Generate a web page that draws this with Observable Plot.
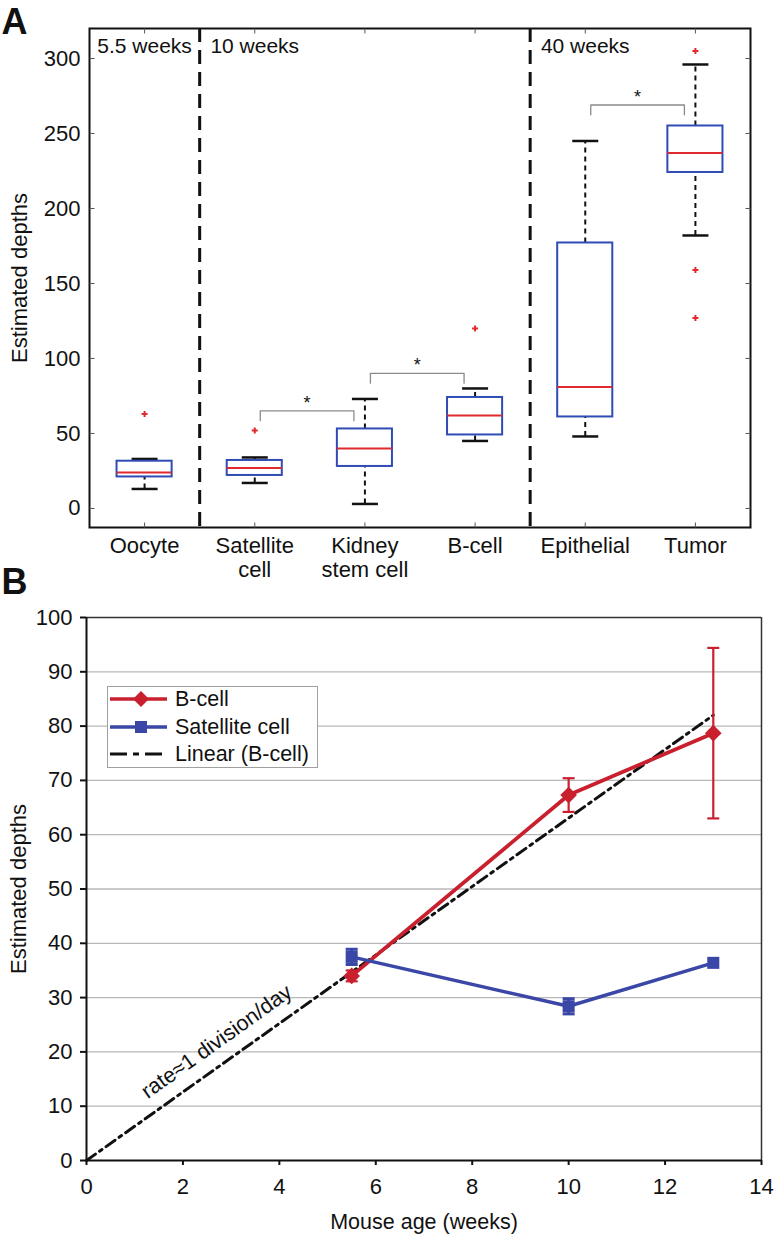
<!DOCTYPE html>
<html><head><meta charset="utf-8">
<script src="https://cdn.jsdelivr.net/npm/d3@7"></script>
<script src="https://cdn.jsdelivr.net/npm/@observablehq/plot@0.6"></script>
<style>
body{margin:0;background:#fff;font-family:"Liberation Sans",Arial,Helvetica,sans-serif;}
#wrap{position:relative;width:774px;height:1238px;overflow:hidden;}
#panelA{position:absolute;left:0;top:0;}
#panelB{position:absolute;left:0;top:590px;}
#legend{position:absolute;left:107px;top:686px;width:209px;height:80px;border:1px solid #a0a0a0;background:#fff;}
.row{position:absolute;left:0;height:26px;width:209px;}
.row svg{position:absolute;left:2px;top:0;}
.row span{position:absolute;left:67px;top:0;line-height:26px;font-size:21.5px;color:#111;white-space:nowrap;}
</style></head>
<body>
<div id="wrap">
  <div id="panelA"></div>
  <div id="panelB"></div>
  <div id="legend"></div>
</div>
<script>
// ---------- Panel A data ----------
const categories = ["Oocyte", "Satellite cell", "Kidney stem cell", "B-cell", "Epithelial", "Tumor"];
const tickLabels = ["Oocyte", "Satellite\ncell", "Kidney\nstem cell", "B-cell", "Epithelial", "Tumor"];
const whiskerLow  = [13, 17, 3, 45, 48, 182];
const quartile1   = [21, 22, 28, 49, 61, 224];
const median      = [24, 27, 40, 62, 81, 237];
const quartile3   = [31.5, 32, 53, 74, 177, 255];
const whiskerHigh = [33, 34, 73, 80, 245, 296];
const outlierCategory = ["Oocyte", "Satellite cell", "B-cell", "Tumor", "Tumor", "Tumor"];
const outlierValue    = [63, 52, 120, 305, 159, 127];
const periods = ["5.5 weeks", "10 weeks", "40 weeks"];
const periodFirstCategory = ["Oocyte", "Satellite cell", "Epithelial"];
const bracketFrom = ["Satellite cell", "Kidney stem cell", "Epithelial"];
const bracketTo   = ["Kidney stem cell", "B-cell", "Tumor"];
const bracketLevel = [65, 90, 269];
const yTicksA = [0, 50, 100, 150, 200, 250, 300];

// ---------- Panel B data ----------
const ages = [5.5, 10, 13];
const bcellDepth = [34, 67.3, 78.7];
const bcellError = [1, 3.1, 15.7];
const satelliteDepth = [37.5, 28.4, 36.4];
const satelliteError = [1.4, 1.4, 0];
const trendAge = [0, 13];
const trendDepth = [0, 82];
const annotationText = ["rate\u22481 division/day"];
const annotationAge = [2.7];
const annotationDepth = [21.9];
const xTicksB = [0, 2, 4, 6, 8, 10, 12, 14];
const yTicksB = [0, 10, 20, 30, 40, 50, 60, 70, 80, 90, 100];
const gridB = [10, 20, 30, 40, 50, 60, 70, 80, 90];
const seriesNames = ["B-cell", "Satellite cell", "Linear (B-cell)"];

// ---------- styles ----------
const FONT = '"Liberation Sans", Arial, Helvetica, sans-serif';
const BOX_BLUE = "#2f4cb4";
const MED_RED = "#e02a2e";
const RED = "#c8202f";
const BLUE = "#3a47a6";

const lineSym = (fn) => ({draw(ctx, size) { const h = Math.sqrt(size / Math.PI); fn(ctx, h); }});
const capSymbol = lineSym((c, h) => { c.moveTo(-h, 0); c.lineTo(h, 0); });
const plusSymbol = lineSym((c, h) => { c.moveTo(-h, 0); c.lineTo(h, 0); c.moveTo(0, -h); c.lineTo(0, h); });
const tickRight = lineSym((c, h) => { c.moveTo(0, 0); c.lineTo(h, 0); });
const tickLeft  = lineSym((c, h) => { c.moveTo(0, 0); c.lineTo(-h, 0); });
const tickDown  = lineSym((c, h) => { c.moveTo(0, 0); c.lineTo(0, h); });
const tickUp    = lineSym((c, h) => { c.moveTo(0, 0); c.lineTo(0, -h); });

const pos = (c) => categories.indexOf(c) + 1;
const positions = categories.map(pos);
const boxes = categories.map((c, i) => ({pos: pos(c), lo: whiskerLow[i], q1: quartile1[i], med: median[i], q3: quartile3[i], hi: whiskerHigh[i]}));
const outliers = outlierCategory.map((c, i) => ({pos: pos(c), v: outlierValue[i]}));
const boundaries = periodFirstCategory.slice(1).map(c => pos(c) - 0.5);
const periodRows = periods.map((p, i) => ({label: p, pos: pos(periodFirstCategory[i])}));
const bracketPts = [];
const bracketStars = [];
bracketFrom.forEach((f, i) => {
  const a = pos(f) + 0.05, b = pos(bracketTo[i]) - 0.1, y = bracketLevel[i], d = 6.5;
  [[a, y - d], [a, y], [b, y], [b, y - d]].forEach(([x, yy]) => bracketPts.push({k: i, x, y: yy}));
  bracketStars.push({x: (a + b) / 2, y});
});
const HW = 0.25;

const chartA = Plot.plot({
  width: 774, height: 590,
  marginTop: 28, marginLeft: 89, marginRight: 24, marginBottom: 63,
  style: {fontFamily: FONT, fontSize: "22px", background: "transparent", overflow: "visible", color: "#111"},
  x: {domain: [0.5, 6.5], label: null},
  y: {domain: [-12.7, 320], label: null},
  marks: [
    Plot.ruleX(boundaries, {stroke: "#111", strokeWidth: 3, strokeDasharray: "14,8"}),
    Plot.ruleX(boxes, {x: "pos", y1: "q3", y2: "hi", stroke: "#111", strokeWidth: 2, strokeDasharray: "5,4"}),
    Plot.ruleX(boxes, {x: "pos", y1: "lo", y2: "q1", stroke: "#111", strokeWidth: 2, strokeDasharray: "5,4"}),
    Plot.dot(boxes, {x: "pos", y: "hi", symbol: capSymbol, r: 13, stroke: "#111", strokeWidth: 2.5, fill: "none"}),
    Plot.dot(boxes, {x: "pos", y: "lo", symbol: capSymbol, r: 13, stroke: "#111", strokeWidth: 2.5, fill: "none"}),
    Plot.rect(boxes, {x1: d => d.pos - HW, x2: d => d.pos + HW, y1: "q1", y2: "q3", fill: "white", stroke: BOX_BLUE, strokeWidth: 2}),
    Plot.ruleY(boxes, {x1: d => d.pos - HW, x2: d => d.pos + HW, y: "med", stroke: MED_RED, strokeWidth: 2}),
    Plot.dot(outliers, {x: "pos", y: "v", symbol: plusSymbol, r: 3, stroke: MED_RED, strokeWidth: 2, fill: "none"}),
    Plot.line(bracketPts, {x: "x", y: "y", z: "k", stroke: "#8a8a8a", strokeWidth: 1.3}),
    Plot.text(bracketStars, {x: "x", y: "y", text: () => "*", fontSize: 18, dy: -2, lineAnchor: "bottom", fill: "#111"}),
    Plot.text(periodRows, {x: "pos", frameAnchor: "top", text: "label", dy: 18, lineAnchor: "middle", textAnchor: "middle", fontSize: 21}),
    Plot.frame({stroke: "#111", strokeWidth: 2}),
    Plot.dot(yTicksA, {y: d => d, frameAnchor: "left", symbol: tickRight, r: 5, stroke: "#555", strokeWidth: 1, fill: "none"}),
    Plot.dot(yTicksA, {y: d => d, frameAnchor: "right", symbol: tickLeft, r: 5, stroke: "#555", strokeWidth: 1, fill: "none"}),
    Plot.dot(positions, {x: d => d, frameAnchor: "top", symbol: tickDown, r: 5, stroke: "#555", strokeWidth: 1, fill: "none"}),
    Plot.dot(positions, {x: d => d, frameAnchor: "bottom", symbol: tickUp, r: 5, stroke: "#555", strokeWidth: 1, fill: "none"}),
    Plot.axisY({ticks: yTicksA, tickSize: 0, tickPadding: 9, label: null}),
    Plot.axisX({ticks: positions, tickFormat: i => tickLabels[i - 1], tickSize: 0, tickPadding: 9, lineHeight: 1.08, label: null}),
    Plot.text(["Estimated depths"], {text: d => d, frameAnchor: "left", rotate: -90, dx: -70, textAnchor: "middle", lineAnchor: "middle", fontSize: 22}),
    Plot.text(["A"], {text: d => d, frameAnchor: "top-left", dx: -88, dy: -20, textAnchor: "start", lineAnchor: "top", fontWeight: "bold", fontSize: 36})
  ]
});
document.getElementById("panelA").append(chartA);

// ---------- Panel B ----------
const bcell = ages.map((a, i) => ({age: a, v: bcellDepth[i], e: bcellError[i]}));
const sat = ages.map((a, i) => ({age: a, v: satelliteDepth[i], e: satelliteError[i]}));
const trend = trendAge.map((a, i) => ({age: a, v: trendDepth[i]}));
const annot = annotationText.map((t, i) => ({t, age: annotationAge[i], v: annotationDepth[i]}));

const chartB = Plot.plot({
  width: 774, height: 648,
  marginTop: 27, marginLeft: 86, marginRight: 13, marginBottom: 78,
  style: {fontFamily: FONT, fontSize: "22px", background: "transparent", overflow: "visible", color: "#111"},
  x: {domain: [0, 14], label: null},
  y: {domain: [0, 100], label: null},
  marks: [
    Plot.ruleY(gridB, {stroke: "#b8b8b8", strokeWidth: 1.3}),
    Plot.ruleY([100], {stroke: "#333", strokeWidth: 1.5}),
    Plot.ruleX([14], {stroke: "#333", strokeWidth: 1.5}),
    Plot.line(trend, {x: "age", y: "v", stroke: "#111", strokeWidth: 3, strokeDasharray: "11,5,3,5"}),
    Plot.line(bcell, {x: "age", y: "v", stroke: RED, strokeWidth: 3.8}),
    Plot.ruleX(bcell, {x: "age", y1: d => d.v - d.e, y2: d => d.v + d.e, stroke: RED, strokeWidth: 2.2}),
    Plot.dot(bcell, {x: "age", y: d => d.v + d.e, symbol: capSymbol, r: 6, stroke: RED, strokeWidth: 2.2, fill: "none"}),
    Plot.dot(bcell, {x: "age", y: d => d.v - d.e, symbol: capSymbol, r: 6, stroke: RED, strokeWidth: 2.2, fill: "none"}),
    Plot.dot(bcell, {x: "age", y: "v", symbol: "diamond2", r: 7.5, fill: RED}),
    Plot.line(sat, {x: "age", y: "v", stroke: BLUE, strokeWidth: 3.5}),
    Plot.ruleX(sat.filter(d => d.e > 0), {x: "age", y1: d => d.v - d.e, y2: d => d.v + d.e, stroke: BLUE, strokeWidth: 3}),
    Plot.dot(sat.filter(d => d.e > 0), {x: "age", y: d => d.v + d.e, symbol: capSymbol, r: 6, stroke: BLUE, strokeWidth: 3, fill: "none"}),
    Plot.dot(sat.filter(d => d.e > 0), {x: "age", y: d => d.v - d.e, symbol: capSymbol, r: 6, stroke: BLUE, strokeWidth: 3, fill: "none"}),
    Plot.dot(sat, {x: "age", y: "v", symbol: "square", r: 6.8, fill: BLUE}),
    Plot.ruleX([0], {stroke: "#111", strokeWidth: 2}),
    Plot.ruleY([0], {stroke: "#111", strokeWidth: 2}),
    Plot.axisY({ticks: yTicksB, tickSize: 6, tickPadding: 8, label: null, strokeWidth: 2}),
    Plot.axisX({ticks: xTicksB, tickSize: 5, tickPadding: 13, label: null, strokeWidth: 2}),
    Plot.text(annot, {x: "age", y: "v", text: "t", rotate: -35.5, textAnchor: "middle", lineAnchor: "middle", fontSize: 21.5}),
    Plot.text(["Estimated depths"], {text: d => d, frameAnchor: "left", rotate: -90, dx: -68, textAnchor: "middle", lineAnchor: "middle", fontSize: 22}),
    Plot.text(["Mouse age (weeks)"], {text: d => d, frameAnchor: "bottom", dy: 62, textAnchor: "middle", lineAnchor: "middle", fontSize: 21.5}),
    Plot.text(["B"], {text: d => d, frameAnchor: "top-left", dx: -85, dy: -49, textAnchor: "start", lineAnchor: "top", fontWeight: "bold", fontSize: 36})
  ]
});
document.getElementById("panelB").append(chartB);

// ---------- legend (panel B) ----------
const legend = document.getElementById("legend");
const swatches = [
  `<line x1="0" y1="13" x2="57" y2="13" stroke="${RED}" stroke-width="3.5"/><path d="M31,5 L39,13 L31,21 L23,13 Z" fill="${RED}"/>`,
  `<line x1="0" y1="13" x2="57" y2="13" stroke="${BLUE}" stroke-width="3.5"/><rect x="25" y="7" width="12" height="12" fill="${BLUE}"/>`,
  `<line x1="0" y1="13" x2="57" y2="13" stroke="#111" stroke-width="3" stroke-dasharray="17,6,6,6"/>`
];
const rowTops = [-1, 27, 54];
seriesNames.forEach((name, i) => {
  const row = document.createElement("div");
  row.className = "row";
  row.style.top = rowTops[i] + "px";
  row.innerHTML = `<svg width="60" height="26">${swatches[i]}</svg><span>${name}</span>`;
  legend.append(row);
});
</script>
</body></html>
